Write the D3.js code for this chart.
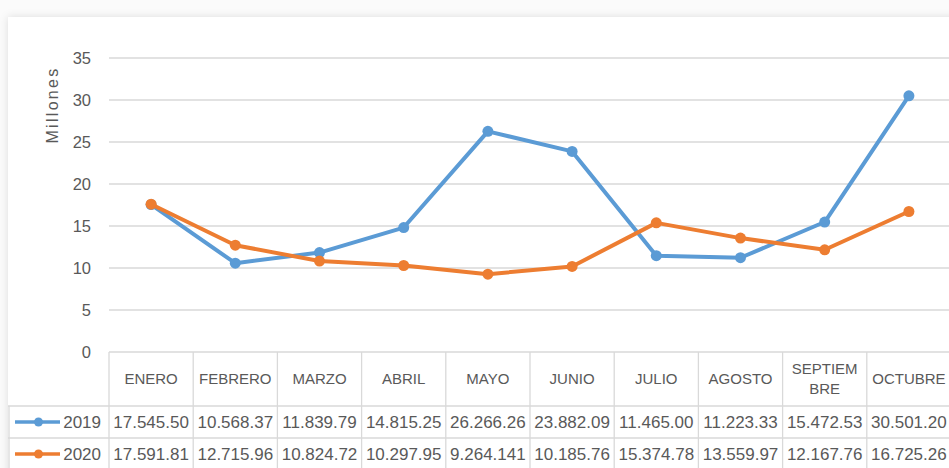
<!DOCTYPE html>
<html>
<head>
<meta charset="utf-8">
<script src="https://cdn.jsdelivr.net/npm/d3@7"></script>
<style>
  html, body { margin: 0; padding: 0; background: #fbfbfb; }
  svg { display: block; }
  text { font-family: "Liberation Sans", Arial, sans-serif; fill: #595959; }
</style>
</head>
<body>
<svg id="chart" width="949" height="468"></svg>
<script>
// data (millions)
var months = ["ENERO", "FEBRERO", "MARZO", "ABRIL", "MAYO", "JUNIO", "JULIO", "AGOSTO", "SEPTIEMBRE", "OCTUBRE"];
var monthLabels = [["ENERO"], ["FEBRERO"], ["MARZO"], ["ABRIL"], ["MAYO"], ["JUNIO"], ["JULIO"], ["AGOSTO"], ["SEPTIEM", "BRE"], ["OCTUBRE"]];
var values2019 = [17.5455, 10.56837, 11.83979, 14.81525, 26.26626, 23.88209, 11.465, 11.22333, 15.47253, 30.5012];
var values2020 = [17.59181, 12.71596, 10.82472, 10.29795, 9.264141, 10.18576, 15.37478, 13.55997, 12.16776, 16.72526];
var labels2019 = ["17.545.50", "10.568.37", "11.839.79", "14.815.25", "26.266.26", "23.882.09", "11.465.00", "11.223.33", "15.472.53", "30.501.20"];
var labels2020 = ["17.591.81", "12.715.96", "10.824.72", "10.297.95", "9.264.141", "10.185.76", "15.374.78", "13.559.97", "12.167.76", "16.725.26"];
var yTicks = [0, 5, 10, 15, 20, 25, 30, 35];

var series = [
	{ name: "2019", values: values2019, labels: labels2019, color: "#5B9BD5" },
	{ name: "2020", values: values2020, labels: labels2020, color: "#ED7D31" }
];

var svg = d3.select("#chart");

// chart area with a soft shadow
var defs = svg.append("defs");
var filter = defs.append("filter").attr("id", "shadow")
	.attr("x", "-5%").attr("y", "-5%").attr("width", "110%").attr("height", "110%");
filter.append("feDropShadow")
	.attr("dx", 0).attr("dy", 0)
	.attr("stdDeviation", 4)
	.attr("flood-color", "#000")
	.attr("flood-opacity", 0.12);

svg.append("rect")
	.attr("x", 8).attr("y", 17)
	.attr("width", 960).attr("height", 470)
	.attr("fill", "#fff")
	.attr("filter", "url(#shadow)");

var x = d3.scaleBand().domain(months).range([109, 951]);
var y = d3.scaleLinear().domain([0, 35]).range([352, 58]);

var tableTop = 352, headerBottom = 406, rowH = 32;

// gridlines
svg.append("g").selectAll("line").data(yTicks.filter(function(d) { return d > 0; }))
	.enter().append("line")
	.attr("x1", 109).attr("x2", 949)
	.attr("y1", function(d) { return y(d); })
	.attr("y2", function(d) { return y(d); })
	.attr("stroke", "#d9d9d9").attr("stroke-width", 1.3);

// y axis labels
var yAxis = d3.axisLeft(y).tickValues(yTicks).tickSize(0).tickPadding(0);
var yg = svg.append("g").attr("transform", "translate(91,0)").call(yAxis);
yg.select(".domain").remove();
yg.selectAll("text")
	.style("font-family", "Liberation Sans, Arial, sans-serif")
	.style("font-size", "16.5px")
	.attr("fill", "#595959")
	.attr("dy", "0.35em");

svg.append("text")
	.attr("transform", "translate(58,105) rotate(-90)")
	.attr("text-anchor", "middle")
	.style("font-size", "16px")
	.style("letter-spacing", "2.3px")
	.text("Millones");

// data table grid
var grid = svg.append("g").attr("stroke", "#d9d9d9").attr("stroke-width", 1.3);
grid.append("line").attr("x1", 109).attr("x2", 949).attr("y1", tableTop).attr("y2", tableTop);
grid.append("line").attr("x1", 8).attr("x2", 949).attr("y1", headerBottom).attr("y2", headerBottom);
grid.append("line").attr("x1", 8).attr("x2", 949).attr("y1", headerBottom + rowH).attr("y2", headerBottom + rowH);
grid.append("line").attr("x1", 9).attr("x2", 9).attr("y1", headerBottom).attr("y2", 468);
grid.selectAll("line.col").data(months).enter().append("line")
	.attr("class", "col")
	.attr("x1", function(d) { return x(d); })
	.attr("x2", function(d) { return x(d); })
	.attr("y1", tableTop).attr("y2", 468);

// header labels
var header = svg.append("g").selectAll("text").data(months).enter().append("text")
	.attr("text-anchor", "middle")
	.style("font-size", "15px")
	.attr("x", function(d) { return x(d) + x.bandwidth() / 2; })
	.attr("y", function(d, i) {
		var n = monthLabels[i].length;
		return (tableTop + headerBottom) / 2 - (n - 1) * 10;
	});
header.each(function(d, i) {
	var t = d3.select(this);
	monthLabels[i].forEach(function(line, j) {
		t.append("tspan")
			.attr("x", x(d) + x.bandwidth() / 2)
			.attr("dy", j === 0 ? "0.35em" : "20px")
			.text(line);
	});
});

// table rows: legend key, name, values
series.forEach(function(s, k) {
	var cy = headerBottom + rowH * k + rowH / 2;
	var row = svg.append("g");
	row.append("line")
		.attr("x1", 15).attr("x2", 60).attr("y1", cy).attr("y2", cy)
		.attr("stroke", s.color).attr("stroke-width", 3.5);
	row.append("circle")
		.attr("cx", 38.5).attr("cy", cy).attr("r", 4.5)
		.attr("fill", s.color);
	row.append("text")
		.attr("x", 101).attr("y", cy).attr("dy", "0.35em")
		.attr("text-anchor", "end")
		.style("font-size", "17px")
		.text(s.name);
	row.selectAll("text.val").data(s.labels).enter().append("text")
		.attr("class", "val")
		.attr("x", function(d, i) { return x(months[i]) + x.bandwidth() / 2; })
		.attr("y", cy).attr("dy", "0.35em")
		.attr("text-anchor", "middle")
		.style("font-size", "17px")
		.text(function(d) { return d; });
});

// lines and markers
var line = d3.line()
	.x(function(d, i) { return x(months[i]) + x.bandwidth() / 2; })
	.y(function(d) { return y(d); });

series.forEach(function(s) {
	var g = svg.append("g");
	g.append("path")
		.datum(s.values)
		.attr("d", line)
		.attr("fill", "none")
		.attr("stroke", s.color)
		.attr("stroke-width", 4)
		.attr("stroke-linejoin", "round");
	g.selectAll("circle").data(s.values).enter().append("circle")
		.attr("cx", function(d, i) { return x(months[i]) + x.bandwidth() / 2; })
		.attr("cy", function(d) { return y(d); })
		.attr("r", 5.5)
		.attr("fill", s.color);
});
</script>
</body>
</html>
